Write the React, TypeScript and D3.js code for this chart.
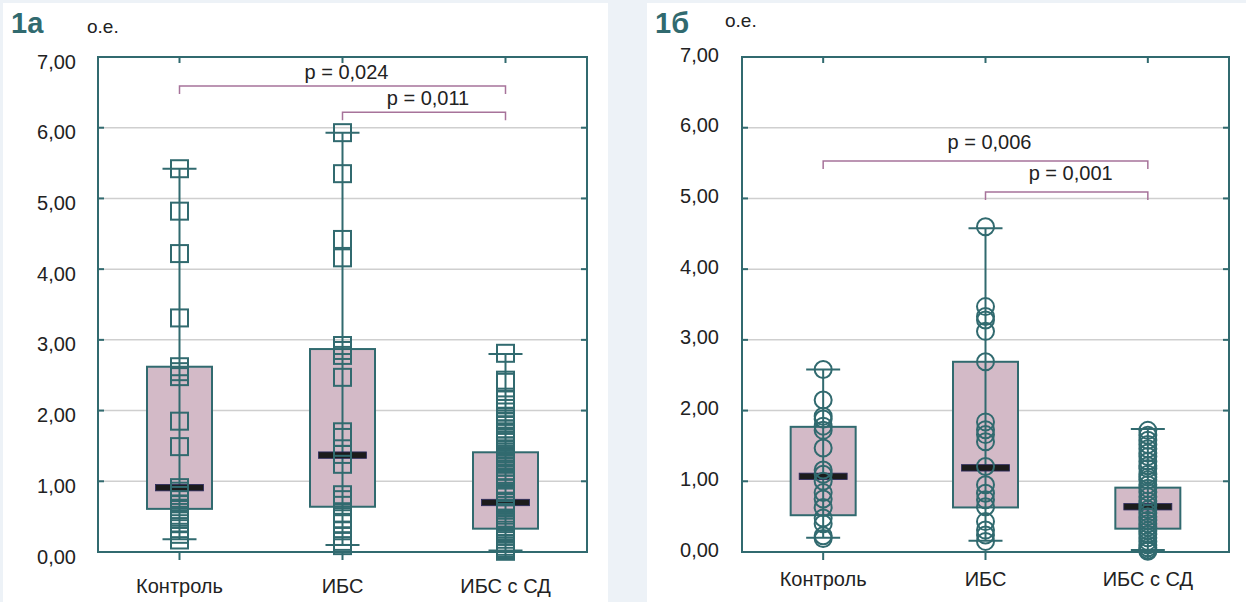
import React from 'react'
import * as d3 from 'd3'

const categories = ['Контроль', 'ИБС', 'ИБС с СД']
const yTicks = [0, 1, 2, 3, 4, 5, 6, 7]

// panel 1a – box statistics per category
const lowA = [0.18, 0.10, 0.02]
const q1A = [0.61, 0.64, 0.33]
const medA = [0.91, 1.37, 0.70]
const q3A = [2.62, 2.87, 1.41]
const highA = [5.42, 5.93, 2.80]

// panel 1a – individual values
const controlA = [5.42, 4.82, 4.22, 3.31, 2.62, 2.55, 2.48, 1.85, 1.49, 0.91, 0.86, 0.80, 0.74, 0.68, 0.60, 0.52, 0.46, 0.40, 0.33, 0.25, 0.17]
const ihdA = [5.93, 5.35, 4.42, 4.16, 2.92, 2.85, 2.78, 2.47, 1.70, 1.62, 1.38, 1.24, 0.81, 0.74, 0.66, 0.55, 0.47, 0.40, 0.30, 0.22, 0.15, 0.09]
const ihdDmA = [2.81, 2.43, 2.40, 2.15, 2.08, 2.03, 1.98, 1.92, 1.88, 1.85, 1.80, 1.74, 1.70, 1.68, 1.62, 1.58, 1.55, 1.50, 1.45, 1.41, 1.36, 1.33, 1.28, 1.24, 1.20, 1.15, 1.10, 1.06, 1.02, 0.96, 0.90, 0.84, 0.80, 0.78, 0.70, 0.66, 0.62, 0.55, 0.48, 0.44, 0.40, 0.35, 0.28, 0.22, 0.18, 0.12, 0.08, 0.05, 0.03, 0.01]

// panel 1b – box statistics per category
const lowB = [0.20, 0.16, 0.03]
const q1B = [0.52, 0.63, 0.33]
const medB = [1.07, 1.19, 0.64]
const q3B = [1.77, 2.69, 0.91]
const highB = [2.58, 4.58, 1.74]

// panel 1b – individual values
const controlB = [2.58, 2.15, 1.92, 1.88, 1.78, 1.72, 1.47, 1.16, 1.10, 1.00, 0.84, 0.75, 0.63, 0.48, 0.40, 0.23, 0.19]
const ihdB = [4.60, 3.47, 3.33, 3.28, 3.12, 2.69, 1.84, 1.73, 1.66, 1.56, 1.21, 0.95, 0.83, 0.74, 0.64, 0.43, 0.31, 0.24, 0.15]
const ihdDmB = [1.72, 1.65, 1.58, 1.52, 1.46, 1.40, 1.35, 1.28, 1.22, 1.18, 1.10, 1.06, 1.02, 0.95, 0.90, 0.85, 0.78, 0.72, 0.66, 0.60, 0.55, 0.50, 0.45, 0.40, 0.35, 0.30, 0.25, 0.20, 0.15, 0.10, 0.06, 0.03, 0.01]

// significance brackets: [from, to, level, label]
const pairsA: [number, number, number, string][] = [[0, 2, 6.59, 'p = 0,024'], [1, 2, 6.22, 'p = 0,011']]
const pairsB: [number, number, number, string][] = [[0, 2, 5.53, 'p = 0,006'], [1, 2, 5.09, 'p = 0,001']]

const teal = '#316a6f'
const boxFill = '#d3bac7'
const bracketColor = '#a7739a'
const font = '"Liberation Sans", Arial, sans-serif'

type PanelProps = {
  x0: number, x1: number, left: number, width: number,
  title: string, titleX: number, unitX: number, unitY: number,
  tickRight: number, tickDy: number, catY: number,
  low: number[], q1: number[], med: number[], q3: number[], high: number[],
  points: number[][], marker: 'square' | 'circle',
  pairs: [number, number, number, string][], pDy: number,
}

const Panel = (p: PanelProps) => {
  const y = d3.scaleLinear().domain([0, 7]).range([552, 57])
  const x = d3.scalePoint<string>().domain(categories).range([p.x0, p.x1]).padding(0.5)
  const boxW = 65, capW = 34, medW = 48, s = 17

  return (
    <g>
      <rect x={p.left} y={3} width={p.width} height={599} fill="#fff" />
      <text x={p.titleX} y={33} fontSize={29} fontWeight="bold" fill={teal} fontFamily={font}>{p.title}</text>
      <text x={p.unitX} y={p.unitY} fontSize={19} fill="#222" fontFamily={font}>о.е.</text>

      {yTicks.filter(t => t > 0 && t < 7).map(t => (
        <line key={'g' + t} x1={p.x0} x2={p.x1} y1={y(t)} y2={y(t)} stroke="#cfcfcf" strokeWidth={1.5} />
      ))}
      {yTicks.map(t => (
        <g key={'t' + t}>
          <line x1={p.x0} x2={p.x0 + 6} y1={y(t)} y2={y(t)} stroke={teal} strokeWidth={2} />
          <line x1={p.x1 - 6} x2={p.x1} y1={y(t)} y2={y(t)} stroke={teal} strokeWidth={2} />
          <text x={p.tickRight} y={y(t) + p.tickDy} textAnchor="end" fontSize={20} fill="#222" fontFamily={font}>
            {d3.format('.2f')(t).replace('.', ',')}
          </text>
        </g>
      ))}

      {categories.map(c => (
        <g key={'c' + c}>
          <line x1={x(c)} x2={x(c)} y1={57} y2={63} stroke={teal} strokeWidth={2} />
          <line x1={x(c)} x2={x(c)} y1={552} y2={560} stroke={teal} strokeWidth={2} />
          <text x={x(c)} y={p.catY} textAnchor="middle" fontSize={20} fill="#222" fontFamily={font}>{c}</text>
        </g>
      ))}

      {p.pairs.map(([a, b, lvl, label]) => {
        const xa = x(categories[a])!, xb = x(categories[b])!
        return (
          <g key={label}>
            <path d={`M${xa},${y(lvl) + 8}V${y(lvl)}H${xb}V${y(lvl) + 8}`} fill="none" stroke={bracketColor} strokeWidth={1.5} />
            <text x={(xa + xb) / 2 + 4} y={y(lvl) - p.pDy} textAnchor="middle" fontSize={20} fill="#222" fontFamily={font}>{label}</text>
          </g>
        )
      })}

      {categories.map((c, i) => {
        const cx = x(c)!
        return (
          <g key={'b' + c}>
            <rect x={cx - boxW / 2} y={y(p.q3[i])} width={boxW} height={y(p.q1[i]) - y(p.q3[i])} fill={boxFill} stroke={teal} strokeWidth={2} />
            <line x1={cx} x2={cx} y1={y(p.low[i])} y2={y(p.high[i])} stroke={teal} strokeWidth={2} />
            <line x1={cx - capW / 2} x2={cx + capW / 2} y1={y(p.low[i])} y2={y(p.low[i])} stroke={teal} strokeWidth={2} />
            <line x1={cx - capW / 2} x2={cx + capW / 2} y1={y(p.high[i])} y2={y(p.high[i])} stroke={teal} strokeWidth={2} />
            <rect x={cx - medW / 2} y={y(p.med[i]) - 3.2} width={medW} height={6.4} fill="#1c1c1c" stroke="#2b2b5e" strokeWidth={0.8} />
            {p.points[i].map((v, j) => p.marker === 'square'
              ? <rect key={j} x={cx - s / 2} y={y(v) - s / 2} width={s} height={s} fill="none" stroke={teal} strokeWidth={2} />
              : <circle key={j} cx={cx} cy={y(v)} r={s / 2} fill="none" stroke={teal} strokeWidth={2} />)}
          </g>
        )
      })}

      <rect x={p.x0} y={57} width={p.x1 - p.x0} height={495} fill="none" stroke={teal} strokeWidth={2} />
    </g>
  )
}

export default function App() {
  return (
    <div style={{ position: 'fixed', left: 0, top: 0 }}>
      <svg width={1246} height={602} style={{ display: 'block' }}>
        <rect width={1246} height={602} fill="#edf2f7" />
        <Panel x0={98} x1={587} left={3} width={605} title="1а" titleX={11} unitX={87} unitY={33}
          tickRight={76} tickDy={11.5} catY={593}
          low={lowA} q1={q1A} med={medA} q3={q3A} high={highA}
          points={[controlA, ihdA, ihdDmA]} marker="square" pairs={pairsA} pDy={7} />
        <Panel x0={742} x1={1229} left={647} width={599} title="1б" titleX={655} unitX={725} unitY={27}
          tickRight={719} tickDy={4.5} catY={586}
          low={lowB} q1={q1B} med={medB} q3={q3B} high={highB}
          points={[controlB, ihdB, ihdDmB]} marker="circle" pairs={pairsB} pDy={12} />
      </svg>
    </div>
  )
}
